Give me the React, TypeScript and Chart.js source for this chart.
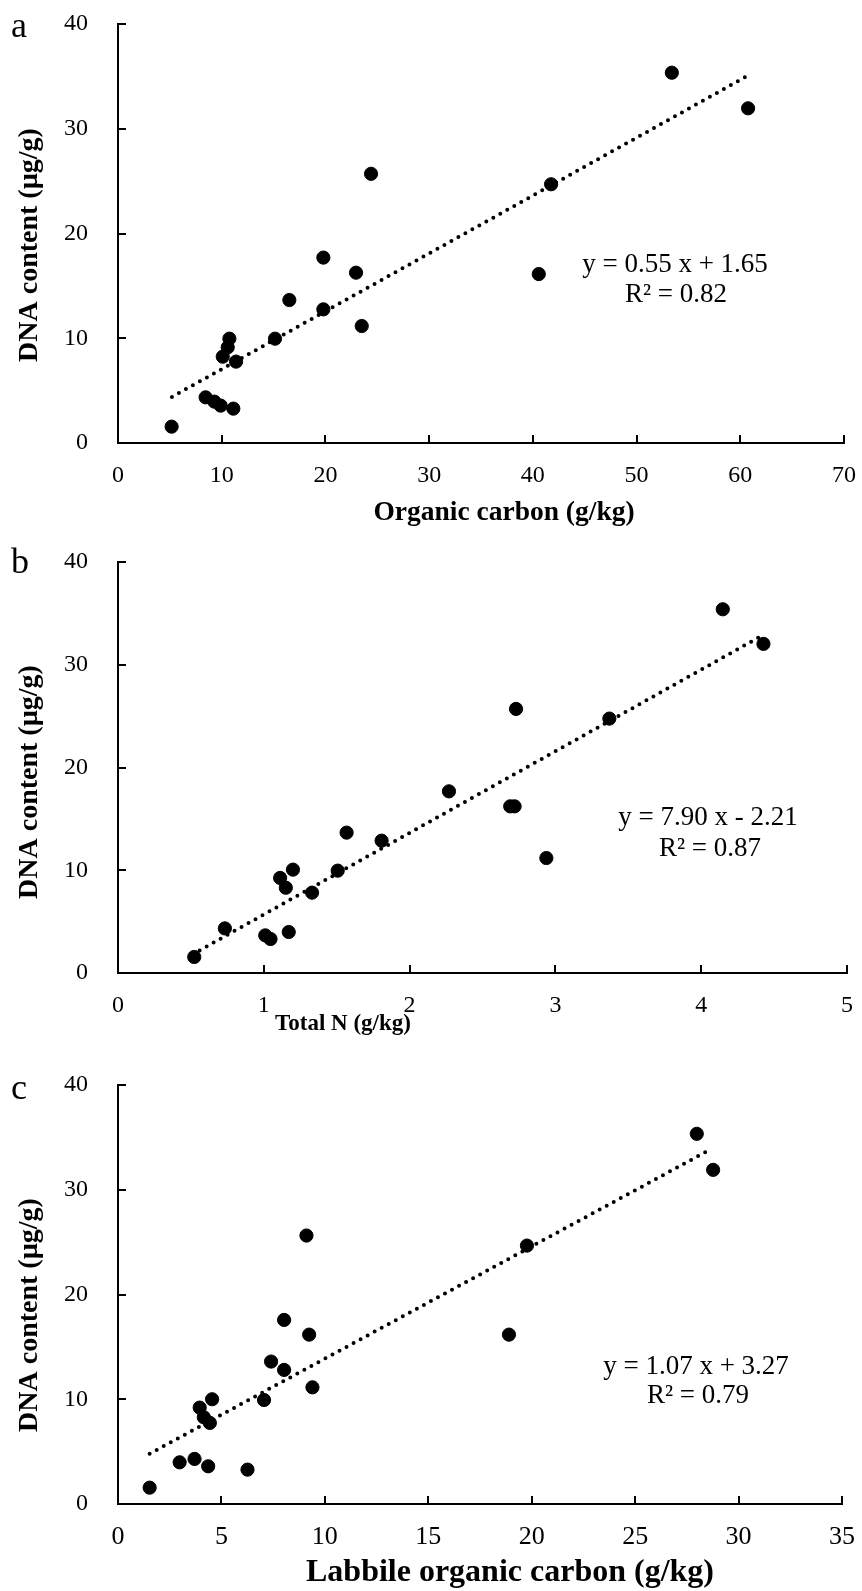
import React, { useEffect, useRef } from "react";
import { Chart, registerables } from "chart.js";

Chart.register(...registerables);

const FONT = "'Liberation Serif', 'Times New Roman', serif";

// ---------- Data ----------
const dnaTicks = [0, 10, 20, 30, 40];

// Panel a: organic carbon (g/kg) vs DNA content (µg/g)
const organicCarbon = [53.4, 60.75, 41.76, 24.4, 40.57, 19.8, 22.95, 16.52, 19.8, 23.5, 15.14, 10.74, 10.58, 10.1, 11.38, 8.45, 9.29, 9.9, 11.12, 5.17];
const dnaA = [35.35, 31.95, 24.7, 25.7, 16.13, 17.7, 16.26, 13.65, 12.76, 11.17, 9.96, 9.96, 9.13, 8.24, 7.77, 4.36, 3.95, 3.57, 3.28, 1.56];
const trendAX = [5.2, 60.6];
const trendAY = [4.4, 35.0];

// Panel b: total N (g/kg) vs DNA content
const totalN = [4.148, 4.427, 3.37, 2.73, 2.27, 2.69, 2.72, 2.938, 1.568, 1.808, 1.2, 1.507, 1.112, 1.151, 1.331, 0.733, 1.171, 1.01, 1.046, 0.523];
const dnaB = [35.4, 32.03, 24.76, 25.7, 17.68, 16.22, 16.22, 11.19, 13.66, 12.88, 10.06, 9.96, 9.25, 8.3, 7.82, 4.34, 3.99, 3.66, 3.31, 1.56];
const trendBX = [0.56, 4.4];
const trendBY = [2.2, 32.7];

// Panel c: labile organic carbon (g/kg) vs DNA content
const labileC = [27.98, 28.77, 19.77, 9.11, 8.03, 9.24, 18.9, 7.4, 8.03, 9.4, 4.55, 7.06, 3.95, 4.15, 4.44, 3.7, 2.98, 4.36, 6.26, 1.53];
const dnaC = [35.34, 31.9, 24.67, 25.63, 17.57, 16.17, 16.17, 13.6, 12.8, 11.14, 10.0, 9.93, 9.2, 8.28, 7.74, 4.3, 3.98, 3.6, 3.28, 1.56];
const trendCX = [1.53, 28.5];
const trendCY = [4.8, 33.7];

// ---------- Layout of panels ----------
type Panel = {
  letter: string;
  xs: number[];
  ys: number[];
  tx: number[];
  ty: number[];
  xMax: number;
  xStep: number;
  xTitle: string;
  eq1: string;
  eq2: string;
  canvasTop: number;
  canvasHeight: number;
  area: { left: number; right: number; top: number; bottom: number };
  letterPos: [number, number];
  yTitlePos: [number, number];
  xTitlePos: [number, number];
  xTitleSize: number;
  xTickSize: number;
  eq1Pos: [number, number];
  eq2Pos: [number, number];
};

const panels: Panel[] = [
  {
    letter: "a",
    xs: organicCarbon,
    ys: dnaA,
    tx: trendAX,
    ty: trendAY,
    xMax: 70,
    xStep: 10,
    xTitle: "Organic carbon (g/kg)",
    eq1: "y = 0.55 x + 1.65",
    eq2: "R\u00B2 = 0.82",
    canvasTop: 0,
    canvasHeight: 530,
    area: { left: 118, right: 844, top: 24, bottom: 443 },
    letterPos: [11, 37],
    yTitlePos: [30, 245],
    xTitlePos: [504, 513],
    xTitleSize: 27.5,
    xTickSize: 24,
    eq1Pos: [675, 265],
    eq2Pos: [676, 295],
  },
  {
    letter: "b",
    xs: totalN,
    ys: dnaB,
    tx: trendBX,
    ty: trendBY,
    xMax: 5,
    xStep: 1,
    xTitle: "Total N (g/kg)",
    eq1: "y = 7.90 x - 2.21",
    eq2: "R\u00B2 = 0.87",
    canvasTop: 530,
    canvasHeight: 530,
    area: { left: 118, right: 847, top: 562, bottom: 973 },
    letterPos: [11, 573],
    yTitlePos: [30, 782],
    xTitlePos: [343, 1024],
    xTitleSize: 23,
    xTickSize: 24,
    eq1Pos: [708, 818],
    eq2Pos: [710, 849],
  },
  {
    letter: "c",
    xs: labileC,
    ys: dnaC,
    tx: trendCX,
    ty: trendCY,
    xMax: 35,
    xStep: 5,
    xTitle: "Labbile organic carbon (g/kg)",
    eq1: "y = 1.07 x + 3.27",
    eq2: "R\u00B2 = 0.79",
    canvasTop: 1060,
    canvasHeight: 531,
    area: { left: 118, right: 842, top: 1085, bottom: 1504 },
    letterPos: [11, 1099],
    yTitlePos: [30, 1315],
    xTitlePos: [510, 1573],
    xTitleSize: 32,
    xTickSize: 26,
    eq1Pos: [696, 1367],
    eq2Pos: [698, 1396],
  },
];

const decorPlugin = {
  id: "decor",
  afterDraw(chart: any, _args: any, opts: any) {
    const p: Panel = opts.panel;
    if (!p) return;
    const ctx = chart.ctx as CanvasRenderingContext2D;
    const xs = chart.scales.x;
    const ys = chart.scales.y;
    const ca = chart.chartArea;
    const off = p.canvasTop;
    ctx.save();
    ctx.strokeStyle = "#000";
    ctx.lineWidth = 2;
    ctx.lineCap = "butt";
    xs.ticks.forEach((t: any) => {
      const px = Math.round(xs.getPixelForValue(t.value));
      ctx.beginPath();
      ctx.moveTo(px, ca.bottom);
      ctx.lineTo(px, ca.bottom - 8);
      ctx.stroke();
    });
    ys.ticks.forEach((t: any) => {
      const py = Math.round(ys.getPixelForValue(t.value));
      ctx.beginPath();
      ctx.moveTo(ca.left, py);
      ctx.lineTo(ca.left + 8, py);
      ctx.stroke();
    });

    ctx.fillStyle = "#000";
    // panel letter
    ctx.font = `36px ${FONT}`;
    ctx.textAlign = "left";
    ctx.textBaseline = "alphabetic";
    ctx.fillText(p.letter, p.letterPos[0], p.letterPos[1] - off);

    // equation
    ctx.font = `27px ${FONT}`;
    ctx.textAlign = "center";
    ctx.textBaseline = "middle";
    ctx.fillText(p.eq1, p.eq1Pos[0], p.eq1Pos[1] - off);
    ctx.fillText(p.eq2, p.eq2Pos[0], p.eq2Pos[1] - off);

    // x title
    ctx.font = `bold ${p.xTitleSize}px ${FONT}`;
    ctx.fillText(p.xTitle, p.xTitlePos[0], p.xTitlePos[1] - off);

    // y title
    ctx.save();
    ctx.translate(p.yTitlePos[0], p.yTitlePos[1] - off);
    ctx.rotate(-Math.PI / 2);
    ctx.font = `bold 28px ${FONT}`;
    ctx.fillText("DNA content (\u00B5g/g)", 0, 0);
    ctx.restore();

    ctx.restore();
  },
};

function zeroPad(s: any) {
  s.paddingTop = 0;
  s.paddingBottom = 0;
  s.paddingLeft = 0;
  s.paddingRight = 0;
}

function PanelChart({ panel }: { panel: Panel }) {
  const ref = useRef<HTMLCanvasElement | null>(null);
  useEffect(() => {
    if (!ref.current) return;
    const a = panel.area;
    const padTop = a.top - panel.canvasTop;
    const padRight = 862 - a.right;
    const xHeight = panel.canvasHeight - (a.bottom - panel.canvasTop);
    const chart = new Chart(ref.current, {
      type: "scatter",
      data: {
        datasets: [
          {
            type: "scatter",
            data: panel.xs.map((x, i) => ({ x, y: panel.ys[i] })),
            backgroundColor: "#000",
            borderColor: "#000",
            borderWidth: 1,
            pointRadius: 6.6,
            pointHoverRadius: 6.6,
          },
          {
            type: "line",
            data: panel.tx.map((x, i) => ({ x, y: panel.ty[i] })),
            borderColor: "#000",
            borderWidth: 4,
            borderDash: [0, 8],
            borderCapStyle: "round",
            pointRadius: 0,
            fill: false,
            tension: 0,
          } as any,
        ],
      },
      options: {
        responsive: false,
        animation: false,
        events: [],
        layout: { padding: { top: padTop, right: padRight, left: 0, bottom: 0 } },
        plugins: {
          legend: { display: false },
          tooltip: { enabled: false },
          decor: { panel },
        } as any,
        scales: {
          x: {
            type: "linear",
            min: 0,
            max: panel.xMax,
            afterFit: (s: any) => {
              s.height = xHeight;
              zeroPad(s);
            },
            ticks: {
              stepSize: panel.xStep,
              color: "#000",
              font: { family: FONT, size: panel.xTickSize },
              padding: 18,
              maxRotation: 0,
            },
            grid: { display: true, drawOnChartArea: false, drawTicks: false },
            border: { display: true, color: "#000", width: 2 },
          },
          y: {
            type: "linear",
            min: 0,
            max: 40,
            afterFit: (s: any) => {
              s.width = a.left;
              zeroPad(s);
            },
            ticks: {
              stepSize: 10,
              color: "#000",
              font: { family: FONT, size: 24 },
              padding: 30,
              callback: (v: any) => (dnaTicks.includes(Number(v)) ? String(v) : ""),
            },
            grid: { display: true, drawOnChartArea: false, drawTicks: false },
            border: { display: true, color: "#000", width: 2 },
          },
        },
      },
      plugins: [decorPlugin],
    });
    return () => chart.destroy();
  }, [panel]);
  return (
    <canvas
      ref={ref}
      width={862}
      height={panel.canvasHeight}
      style={{ position: "absolute", left: 0, top: panel.canvasTop, display: "block" }}
    />
  );
}

export default function App() {
  useEffect(() => {
    document.body.style.margin = "0";
    document.body.style.background = "#fff";
  }, []);
  return (
    <div style={{ position: "relative", width: 862, height: 1591, background: "#fff" }}>
      {panels.map((p) => (
        <PanelChart key={p.letter} panel={p} />
      ))}
    </div>
  );
}
